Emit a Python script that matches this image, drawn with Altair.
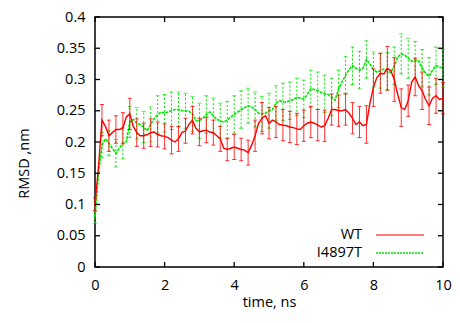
import altair as alt
import pandas as pd

time_ns = [round(i * 0.1, 1) for i in range(101)]

wt = [0.10, 0.16, 0.235, 0.225, 0.21, 0.215, 0.22, 0.22, 0.222, 0.24,
      0.245, 0.225, 0.215, 0.21, 0.21, 0.212, 0.215, 0.216, 0.212, 0.21,
      0.209, 0.207, 0.203, 0.2, 0.205, 0.215, 0.218, 0.228, 0.235, 0.222,
      0.216, 0.218, 0.219, 0.216, 0.215, 0.21, 0.205, 0.19, 0.188, 0.19,
      0.192, 0.19, 0.188, 0.187, 0.183, 0.195, 0.21, 0.23, 0.238, 0.242,
      0.23, 0.235, 0.232, 0.228, 0.227, 0.226, 0.224, 0.223, 0.221, 0.22,
      0.226, 0.23, 0.232, 0.23, 0.227, 0.224, 0.226, 0.238, 0.252, 0.252,
      0.25, 0.25, 0.252, 0.246, 0.238, 0.228, 0.232, 0.226, 0.228, 0.262,
      0.287, 0.303, 0.31, 0.309, 0.318, 0.314, 0.3, 0.276, 0.255, 0.252,
      0.266, 0.296, 0.304, 0.29, 0.282, 0.268, 0.258, 0.27, 0.274, 0.268,
      0.27]

mut = [0.08, 0.15, 0.195, 0.205, 0.198, 0.19, 0.182, 0.19, 0.198, 0.2,
       0.232, 0.236, 0.23, 0.228, 0.224, 0.218, 0.228, 0.237, 0.244, 0.248,
       0.246, 0.248, 0.25, 0.252, 0.252, 0.25, 0.25, 0.249, 0.245, 0.234,
       0.234, 0.238, 0.244, 0.248, 0.242, 0.236, 0.234, 0.232, 0.235, 0.24,
       0.244, 0.248, 0.252, 0.255, 0.258, 0.256, 0.252, 0.246, 0.245, 0.246,
       0.25, 0.252, 0.262, 0.266, 0.264, 0.264, 0.266, 0.268, 0.272, 0.27,
       0.269, 0.276, 0.285, 0.284, 0.282, 0.279, 0.277, 0.276, 0.272, 0.267,
       0.285, 0.296, 0.307, 0.316, 0.322, 0.318, 0.315, 0.318, 0.332, 0.325,
       0.316, 0.312, 0.314, 0.317, 0.313, 0.311, 0.322, 0.336, 0.341, 0.339,
       0.334, 0.329, 0.331, 0.33, 0.318, 0.31, 0.305, 0.315, 0.322, 0.32,
       0.318]

# error bars every 0.2 ns
wt_err = [0.01, 0.025, 0.025, 0.022, 0.025, 0.025, 0.022, 0.02, 0.022, 0.02,
          0.02, 0.022, 0.02, 0.02, 0.022, 0.022, 0.02, 0.02, 0.02, 0.018,
          0.02, 0.018, 0.02, 0.025, 0.025, 0.025, 0.025, 0.025, 0.025, 0.025,
          0.025, 0.025, 0.025, 0.025, 0.025, 0.025, 0.025, 0.025, 0.025, 0.03,
          0.03, 0.032, 0.035, 0.035, 0.03, 0.025, 0.03, 0.03, 0.03, 0.028,
          0.025]

mut_err = [0.01, 0.02, 0.02, 0.022, 0.025, 0.025, 0.025, 0.025, 0.028, 0.03,
           0.03, 0.03, 0.028, 0.028, 0.028, 0.028, 0.03, 0.028, 0.028, 0.03,
           0.03, 0.03, 0.028, 0.028, 0.028, 0.028, 0.028, 0.03, 0.03, 0.03,
           0.03, 0.03, 0.03, 0.03, 0.03, 0.03, 0.03, 0.03, 0.03, 0.03,
           0.028, 0.028, 0.03, 0.03, 0.032, 0.032, 0.03, 0.03, 0.03, 0.03,
           0.03]

x_ticks = [0, 2, 4, 6, 8, 10]
y_ticks = [0, 0.05, 0.1, 0.15, 0.2, 0.25, 0.3, 0.35, 0.4]
legend_labels = ["WT", "I4897T"]

RED = "#ff0000"
GREEN = "#00e600"
W, H = 348, 250
FONT = "Open Sans"
FS = 14.5

line_df = pd.DataFrame({"t": time_ns, "wt": wt, "mut": mut})
t_err = time_ns[::2]
wt_sub = wt[::2]
mut_sub = mut[::2]
err_df = pd.DataFrame({
    "t": t_err,
    "wt_lo": [v - e for v, e in zip(wt_sub, wt_err)],
    "wt_hi": [v + e for v, e in zip(wt_sub, wt_err)],
    "mut_lo": [v - e for v, e in zip(mut_sub, mut_err)],
    "mut_hi": [v + e for v, e in zip(mut_sub, mut_err)],
})

xs = alt.Scale(domain=[0, 10], nice=False)
ys = alt.Scale(domain=[0, 0.4], nice=False)

x_axis = alt.Axis(
    values=x_ticks, format="d", title="time, ns", grid=False, domain=False,
    ticks=False, tickSize=0, labelPadding=11, labelFont=FONT, labelFontSize=FS,
    labelColor="black", titleFont=FONT, titleFontSize=FS, titleFontWeight="normal",
    titleColor="black", titleY=35, titleBaseline="middle", labelFlush=False,
    labelOverlap=False)

y_axis = alt.Axis(
    values=y_ticks, format=".2~f", title="RMSD ,nm", grid=False, domain=False,
    ticks=False, tickSize=0, labelPadding=10, labelFont=FONT, labelFontSize=FS,
    labelColor="black", titleFont=FONT, titleFontSize=FS, titleFontWeight="normal",
    titleColor="black", titleAngle=-90, titleX=-71, titleY=146,
    titleAlign="center", titleBaseline="middle", labelFlush=False,
    labelOverlap=False)


def X(field):
    return alt.X(field, scale=xs, axis=x_axis)


def Y(field):
    return alt.Y(field, scale=ys, axis=y_axis)


# error bars (drawn first)
wt_bars = alt.Chart(err_df).mark_rule(color=RED, strokeWidth=1, opacity=0.8).encode(
    x=X("t:Q"), y=Y("wt_lo:Q"), y2="wt_hi:Q")
wt_cap_lo = alt.Chart(err_df).mark_tick(color=RED, orient="horizontal", size=4, thickness=1, opacity=0.8).encode(
    x=X("t:Q"), y=Y("wt_lo:Q"))
wt_cap_hi = alt.Chart(err_df).mark_tick(color=RED, orient="horizontal", size=4, thickness=1, opacity=0.8).encode(
    x=X("t:Q"), y=Y("wt_hi:Q"))

mut_bars = alt.Chart(err_df).mark_rule(color=GREEN, strokeWidth=1, strokeDash=[2, 2]).encode(
    x=X("t:Q"), y=Y("mut_lo:Q"), y2="mut_hi:Q")
mut_cap_lo = alt.Chart(err_df).mark_tick(color=GREEN, orient="horizontal", size=4, thickness=1).encode(
    x=X("t:Q"), y=Y("mut_lo:Q"))
mut_cap_hi = alt.Chart(err_df).mark_tick(color=GREEN, orient="horizontal", size=4, thickness=1).encode(
    x=X("t:Q"), y=Y("mut_hi:Q"))

mut_line = alt.Chart(line_df).mark_line(color=GREEN, strokeWidth=1.6, strokeDash=[3, 1]).encode(
    x=X("t:Q"), y=Y("mut:Q"))
wt_line = alt.Chart(line_df).mark_line(color=RED, strokeWidth=1.4).encode(
    x=X("t:Q"), y=Y("wt:Q"))

# inward ticks on all four sides
xt_df = pd.DataFrame({"v": x_ticks})
yt_df = pd.DataFrame({"v": y_ticks})
tick_style = dict(color="black", strokeWidth=1.3)
xt_bot = alt.Chart(xt_df).mark_rule(**tick_style).encode(
    x=X("v:Q"), y=alt.value(H), y2=alt.value(H - 5))
xt_top = alt.Chart(xt_df).mark_rule(**tick_style).encode(
    x=X("v:Q"), y=alt.value(0), y2=alt.value(5))
yt_left = alt.Chart(yt_df).mark_rule(**tick_style).encode(
    y=Y("v:Q"), x=alt.value(0), x2=alt.value(5))
yt_right = alt.Chart(yt_df).mark_rule(**tick_style).encode(
    y=Y("v:Q"), x=alt.value(W), x2=alt.value(W - 5))

# legend (bottom right inside the plot)
leg_df = pd.DataFrame({"label": legend_labels})
leg_wt_text = alt.Chart(leg_df).transform_filter(alt.datum.label == "WT").mark_text(
    align="right", baseline="middle", font=FONT, fontSize=FS, color="black").encode(
    text="label:N", x=alt.value(267), y=alt.value(218))
leg_mut_text = alt.Chart(leg_df).transform_filter(alt.datum.label == "I4897T").mark_text(
    align="right", baseline="middle", font=FONT, fontSize=FS, color="black").encode(
    text="label:N", x=alt.value(267), y=alt.value(236))
leg_wt_line = alt.Chart(leg_df).transform_filter(alt.datum.label == "WT").mark_rule(
    color=RED, strokeWidth=1.3, opacity=0.7).encode(
    x=alt.value(281), x2=alt.value(329), y=alt.value(218))
leg_mut_line = alt.Chart(leg_df).transform_filter(alt.datum.label == "I4897T").mark_rule(
    color=GREEN, strokeWidth=1.3, strokeDash=[2, 1]).encode(
    x=alt.value(281), x2=alt.value(329), y=alt.value(236))

chart = alt.layer(
    mut_line, mut_bars, mut_cap_lo, mut_cap_hi,
    wt_bars, wt_cap_lo, wt_cap_hi, wt_line,
    xt_bot, xt_top, yt_left, yt_right,
    leg_wt_text, leg_mut_text, leg_wt_line, leg_mut_line,
).properties(
    width=W, height=H,
    autosize=alt.AutoSizeParams(type="none"),
    padding={"left": 87, "top": 9, "right": 9, "bottom": 43},
    background="white",
).configure_view(stroke="black", strokeWidth=1.5)

chart.save("out.html", embed_options={"renderer": "svg", "actions": False})
